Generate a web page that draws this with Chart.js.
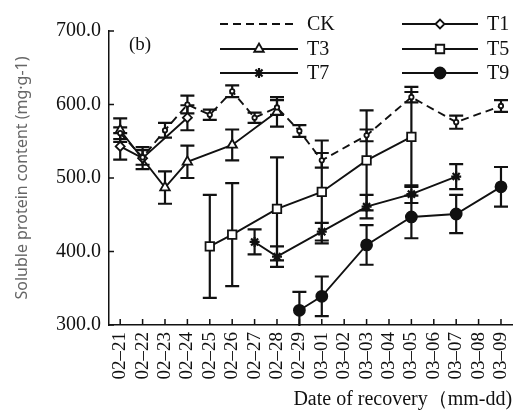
<!DOCTYPE html>
<html>
<head>
    <meta charset="UTF-8">
    <title>Soluble protein content</title>
    <script src="https://cdn.jsdelivr.net/npm/chart.js"></script>
    <style>
        html, body { margin: 0; padding: 0; background: #fff; }
    </style>
</head>
<body>
    <canvas id="proteinChart" width="531" height="412"></canvas>

    <script>
        // Dates of recovery (category axis)
        const dates = ['02–21', '02–22', '02–23', '02–24', '02–25', '02–26', '02–27', '02–28', '02–29',
                       '03–01', '03–02', '03–03', '03–04', '03–05', '03–06', '03–07', '03–08', '03–09'];

        // Mean values (mg·g-1), null where a treatment was not sampled
        const ck = [561, 528, 565, 600, 586, 618, 582, 596, 564, 524, null, 558, null, 610, null, 576, null, 598];
        const t1 = [543, 527, null, 582, null, null, null, null, null, null, null, null, null, null, null, null, null, null];
        const t3 = [565, null, 487, 522, null, 545, null, 590, null, null, null, null, null, null, null, null, null, null];
        const t5 = [null, null, null, null, 407, 423, null, 458, null, 481, null, 524, null, 556, null, null, null, null];
        const t7 = [null, null, null, null, null, null, 413, 393, null, 427, null, 461, null, 478, null, 502, null, null];
        const t9 = [null, null, null, null, null, null, null, null, 320, 339, null, 409, null, 447, null, 451, null, 488];

        // Error bar half lengths
        const ckErr = [8, 10, 10, 12, 7, 8, 7, 10, 8, 10, null, 8, null, 7, null, 9, null, 8];
        const t1Err = [18, 15, null, 17, null, null, null, null, null, null, null, null, null, null, null, null, null, null];
        const t3Err = [16, null, 22, 22, null, 21, null, 20, null, null, null, null, null, null, null, null, null, null];
        const t5Err = [null, null, null, null, 70, 70, null, 70, null, 70, null, 68, null, 68, null, null, null, null];
        const t7Err = [null, null, null, null, null, null, 17, 14, null, 12, null, 16, null, 12, null, 17, null, null];
        const t9Err = [null, null, null, null, null, null, null, null, 25, 27, null, 27, null, 29, null, 26, null, 27];

        const yTicks = [300, 400, 500, 600, 700];

        const serif = '"Liberation Serif", "Times New Roman", serif';
        const ink = '#111';

        function series(label, data, errors, style) {
            return Object.assign({
                label: label,
                data: data,
                errors: errors,
                borderColor: ink,
                borderWidth: 1.9,
                pointBorderColor: ink,
                pointBorderWidth: 1.8,
                spanGaps: true,
                tension: 0
            }, style);
        }

        // error bars, placed with the chart's own scales
        const errorBars = {
            id: 'errorBars',
            beforeDatasetsDraw(chart) {
                const { ctx, chartArea, scales: { x, y } } = chart;
                ctx.save();
                ctx.beginPath();
                ctx.rect(chartArea.left, chartArea.top, chartArea.width, chartArea.height + 1);
                ctx.clip();
                ctx.strokeStyle = ink;
                ctx.lineWidth = 2.2;
                chart.data.datasets.forEach(ds => {
                    ds.data.forEach((v, i) => {
                        const e = ds.errors[i];
                        if (v == null || e == null) return;
                        const px = x.getPixelForValue(i);
                        const top = y.getPixelForValue(v + e);
                        const bot = y.getPixelForValue(v - e);
                        ctx.beginPath();
                        ctx.moveTo(px, top); ctx.lineTo(px, bot);
                        ctx.moveTo(px - 7, top); ctx.lineTo(px + 7, top);
                        ctx.moveTo(px - 7, bot); ctx.lineTo(px + 7, bot);
                        ctx.stroke();
                    });
                });
                ctx.restore();
            }
        };

        // inward tick marks, the "(b)" tag and the two-column legend
        const decorations = {
            id: 'decorations',
            afterDraw(chart) {
                const { ctx, chartArea, scales: { x, y } } = chart;
                ctx.save();
                ctx.strokeStyle = ink;
                ctx.lineWidth = 1.5;
                ctx.beginPath();
                x.ticks.forEach((t, i) => {
                    const px = x.getPixelForTick(i);
                    ctx.moveTo(px, chartArea.bottom);
                    ctx.lineTo(px, chartArea.bottom - 6);
                });
                y.ticks.forEach((t, i) => {
                    const py = y.getPixelForTick(i);
                    ctx.moveTo(chartArea.left, py);
                    ctx.lineTo(chartArea.left + 5, py);
                });
                ctx.stroke();

                ctx.fillStyle = ink;
                ctx.font = '19px ' + serif;
                ctx.textBaseline = 'middle';
                ctx.textAlign = 'left';
                ctx.fillText('(b)', 129, 45);

                const cols = [{ x0: 220, x1: 298, tx: 307 }, { x0: 402, x1: 478, tx: 487 }];
                const rows = [24, 49, 73];
                ctx.font = '20px ' + serif;
                chart.data.datasets.forEach((ds, k) => {
                    const c = cols[k % 2];
                    const ry = rows[Math.floor(k / 2)];
                    ctx.save();
                    ctx.strokeStyle = ink;
                    ctx.lineWidth = 2;
                    ctx.setLineDash(ds.borderDash || []);
                    ctx.beginPath();
                    ctx.moveTo(c.x0, ry);
                    ctx.lineTo(c.x1, ry);
                    ctx.stroke();
                    ctx.setLineDash([]);
                    if (ds.pointRadius > 3 && Chart.helpers && Chart.helpers.drawPoint) {
                        ctx.fillStyle = ds.pointBackgroundColor;
                        ctx.strokeStyle = ink;
                        ctx.lineWidth = ds.pointBorderWidth;
                        Chart.helpers.drawPoint(ctx, {
                            pointStyle: ds.pointStyle,
                            radius: ds.pointRadius,
                            rotation: 0,
                            borderWidth: ds.pointBorderWidth
                        }, (c.x0 + c.x1) / 2, ry);
                    }
                    ctx.restore();
                    ctx.fillStyle = ink;
                    ctx.fillText(ds.label, c.tx, ry + 1);
                });
                ctx.restore();
            }
        };

        const ctx = document.getElementById('proteinChart').getContext('2d');
        new Chart(ctx, {
            type: 'line',
            data: {
                labels: dates,
                datasets: [
                    series('CK', ck, ckErr, { borderDash: [8, 5], pointStyle: 'circle', pointRadius: 2.2, pointBackgroundColor: '#fff' }),
                    series('T1', t1, t1Err, { pointStyle: 'rectRot', pointRadius: 4.5, pointBackgroundColor: '#fff' }),
                    series('T3', t3, t3Err, {
                        pointStyle: 'triangle', pointRadius: 5.5, pointBackgroundColor: '#fff',
                        segment: { borderColor: c => c.p0DataIndex === 0 ? 'rgba(0,0,0,0)' : undefined }
                    }),
                    series('T5', t5, t5Err, { pointStyle: 'rect', pointRadius: 6, pointBackgroundColor: '#fff' }),
                    series('T7', t7, t7Err, { pointStyle: 'star', pointRadius: 5, pointBorderWidth: 2.2, pointBackgroundColor: ink }),
                    series('T9', t9, t9Err, { pointStyle: 'circle', pointRadius: 5.5, pointBackgroundColor: ink })
                ]
            },
            options: {
                responsive: false,
                animation: false,
                layout: { padding: { top: 31, right: 0, bottom: 0, left: 0 } },
                plugins: {
                    legend: { display: false },
                    tooltip: { enabled: false }
                },
                scales: {
                    x: {
                        offset: true,
                        grid: { display: true, drawOnChartArea: false, drawTicks: false },
                        border: { color: ink, width: 1.5 },
                        ticks: {
                            color: ink,
                            font: { family: serif, size: 19 },
                            minRotation: 90,
                            maxRotation: 90,
                            autoSkip: false,
                            padding: 7
                        },
                        title: {
                            display: true,
                            text: 'Date of recovery（mm-dd)',
                            align: 'end',
                            color: ink,
                            font: { family: serif, size: 20 },
                            padding: 0
                        },
                        afterFit: s => { s.height = 87; }
                    },
                    y: {
                        min: 300,
                        max: 700,
                        afterBuildTicks: s => { s.ticks = yTicks.map(v => ({ value: v })); },
                        grid: { display: true, drawOnChartArea: false, drawTicks: false },
                        border: { color: ink, width: 1.5 },
                        ticks: {
                            color: ink,
                            font: { family: serif, size: 20 },
                            padding: 8,
                            callback: v => v.toFixed(1)
                        },
                        title: {
                            display: true,
                            text: 'Soluble protein content (mg·g-1)',
                            color: '#666',
                            font: { family: '"Noto Sans", sans-serif', size: 16 },
                            padding: { top: 13, bottom: 0 }
                        },
                        afterFit: s => { s.width = 109; }
                    }
                }
            },
            plugins: [errorBars, decorations]
        });
    </script>
</body>
</html>
